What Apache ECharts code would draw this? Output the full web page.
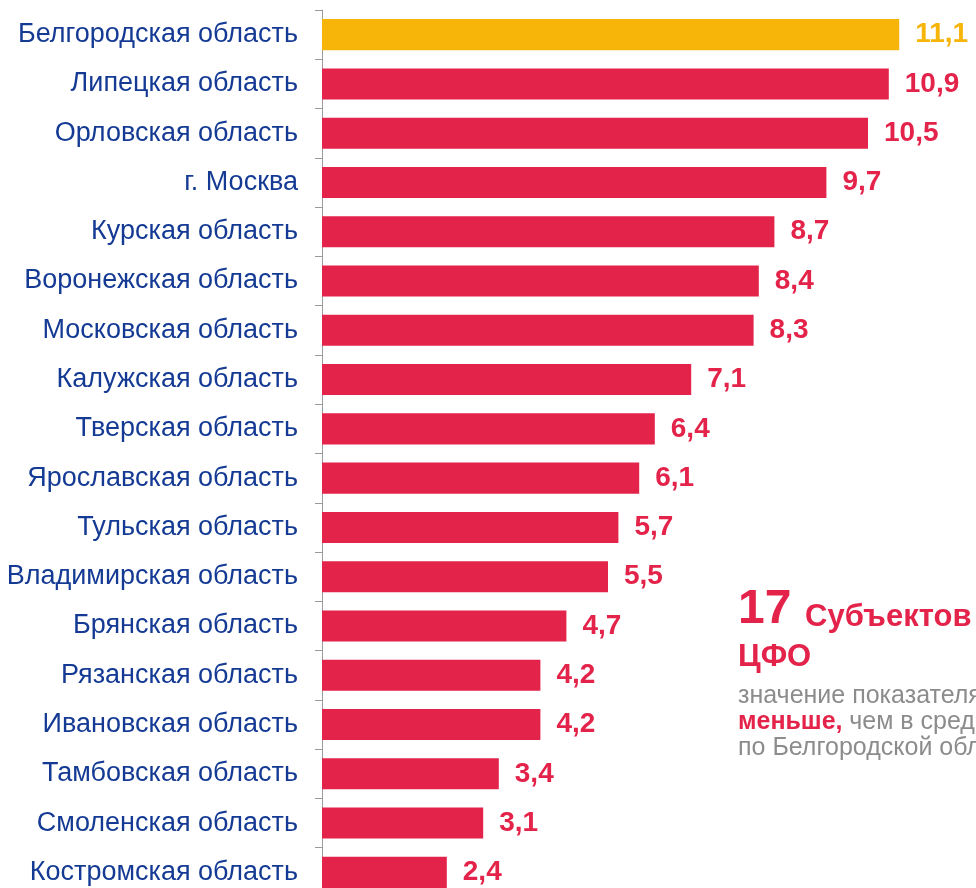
<!DOCTYPE html>
<html><head><meta charset="utf-8">
<script src="https://cdn.jsdelivr.net/npm/echarts@6/dist/echarts.min.js"></script>
<style>html,body{margin:0;padding:0;background:#fff;overflow:hidden}#c{width:976px;height:888px}</style>
</head><body><div id="c"></div>
<script>
const regions = ["Белгородская область","Липецкая область","Орловская область","г. Москва","Курская область","Воронежская область","Московская область","Калужская область","Тверская область","Ярославская область","Тульская область","Владимирская область","Брянская область","Рязанская область","Ивановская область","Тамбовская область","Смоленская область","Костромская область"];
const values = [11.1,10.9,10.5,9.7,8.7,8.4,8.3,7.1,6.4,6.1,5.7,5.5,4.7,4.2,4.2,3.4,3.1,2.4];
const highlightRegion = "Белгородская область";
const RED = '#e4234a', GOLD = '#f7b50a', GRAY = '#8c8c8c';
const FF = '"Liberation Sans", Arial, sans-serif';

const chart = echarts.init(document.getElementById('c'), null, {renderer:'canvas'});
chart.setOption({
  animation:false,
  grid:{left:322, top:10, width:624, height:887, outerBoundsMode:'none', containLabel:false},
  xAxis:{type:'value', min:0, max:12, show:false},
  yAxis:{type:'category', data:regions, inverse:true,
    axisLine:{show:true, lineStyle:{color:'#9a9a9a', width:1}},
    axisTick:{show:true, length:7, lineStyle:{color:'#9a9a9a', width:1}},
    axisLabel:{margin:24, color:'#143a94', fontSize:27, fontFamily:FF}
  },
  series:[{type:'bar', barCategoryGap:'37%',
    data: values.map((v,i)=>({value:v, itemStyle:{color: regions[i]===highlightRegion?GOLD:RED},
      label:{color: regions[i]===highlightRegion?GOLD:RED}})),
    label:{show:true, position:'right', distance:16, fontSize:28, fontWeight:'bold', fontFamily:FF,
      formatter:p=>String(p.value).replace('.',',')}
  }],
  graphic:[
    {type:'text', x:738, y:610, style:{text:'17', font:'bold 48px '+FF, fill:RED, verticalAlign:'middle'}},
    {type:'text', x:805, y:617, style:{text:'Субъектов', font:'bold 31px '+FF, fill:RED, verticalAlign:'middle'}},
    {type:'text', x:738, y:657, style:{text:'ЦФО', font:'bold 31px '+FF, fill:RED, verticalAlign:'middle'}},
    {type:'text', x:738, y:696, style:{text:'значение показателя', font:'25px '+FF, fill:GRAY, verticalAlign:'middle'}},
    {type:'text', x:738, y:722, style:{text:'{a|меньше,}  {b|чем в среднем}', verticalAlign:'middle', rich:{
      a:{fontFamily:FF, fontSize:25, fontWeight:'bold', fill:RED},
      b:{fontFamily:FF, fontSize:25, fill:GRAY}}}},
    {type:'text', x:738, y:748, style:{text:'по Белгородской области', font:'25px '+FF, fill:GRAY, verticalAlign:'middle'}}
  ]
});
</script></body></html>
